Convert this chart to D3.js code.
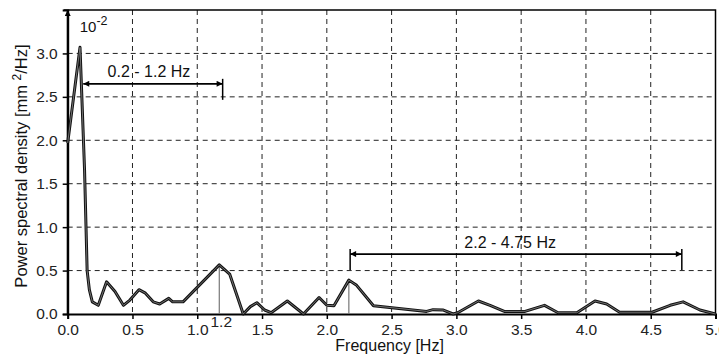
<!DOCTYPE html>
<html>
<head>
<meta charset="utf-8">
<script src="https://cdn.jsdelivr.net/npm/d3@7"></script>
<style>
  body { margin: 0; background: #fff; }
  svg { display: block; font-family: "Liberation Sans", Arial, sans-serif; }
</style>
</head>
<body>
<div id="chart"></div>
<script>
// spectrum (psd in units of 10^-2 mm^2/Hz)
const freq = [0, 0.095, 0.13, 0.15, 0.167, 0.19, 0.236, 0.30, 0.365, 0.43, 0.48, 0.55, 0.60, 0.66, 0.71, 0.78, 0.81, 0.89,
  1.17, 1.25, 1.355, 1.41, 1.46, 1.52, 1.57, 1.695, 1.82, 1.94, 2.0, 2.055, 2.17, 2.23, 2.36, 2.77, 2.82, 2.9, 2.975, 3.01,
  3.17, 3.26, 3.37, 3.53, 3.68, 3.785, 3.93, 4.07, 4.16, 4.26, 4.51, 4.65, 4.75, 4.88, 5.0];
const psd = [1.97, 3.07, 1.66, 0.50, 0.28, 0.14, 0.10, 0.37, 0.26, 0.10, 0.16, 0.28, 0.24, 0.14, 0.115, 0.18, 0.14, 0.14,
  0.565, 0.46, 0.0, 0.085, 0.13, 0.046, 0.015, 0.15, 0.0, 0.19, 0.10, 0.095, 0.39, 0.33, 0.095, 0.03, 0.05, 0.045, 0.0, 0.015,
  0.15, 0.10, 0.03, 0.03, 0.10, 0.015, 0.015, 0.15, 0.115, 0.02, 0.02, 0.10, 0.14, 0.046, 0.0];

const xTicks = [0, 0.5, 1, 1.5, 2, 2.5, 3, 3.5, 4, 4.5, 5];
const yTicks = [0, 0.5, 1, 1.5, 2, 2.5, 3];

// peak markers (gray drop lines) and frequency bands
const peakFreq = [1.17, 2.17];
const peakVal = [0.565, 0.39];
const bandLabels = ['0.2 - 1.2 Hz', '2.2 - 4.75 Hz'];
const bandFrom = [0.12, 2.18];
const bandTo = [1.196, 4.74];
const bandLevel = [2.65, 0.69];

const width = 719, height = 356;
const margin = { top: 10, right: 3.5, bottom: 42, left: 67.7 };
const iw = width - margin.left - margin.right;
const ih = height - margin.top - margin.bottom;
const tickFont = '15.5px';

const svg = d3.select('#chart').append('svg')
  .attr('width', width)
  .attr('height', height);

const defs = svg.append('defs');
defs.append('marker')
  .attr('id', 'head')
  .attr('viewBox', '0 0 10 10')
  .attr('refX', 10).attr('refY', 5)
  .attr('markerWidth', 8).attr('markerHeight', 6)
  .attr('markerUnits', 'userSpaceOnUse')
  .attr('orient', 'auto-start-reverse')
  .append('path').attr('d', 'M0,0L10,5L0,10z').attr('fill', '#000');

const g = svg.append('g').attr('transform', `translate(${margin.left},${margin.top})`);

const x = d3.scaleLinear().domain([0, 5]).range([0, iw]);
const y = d3.scaleLinear().domain([0, 3.5]).range([ih, 0]);

// dashed grid
g.append('g').selectAll('line').data(xTicks.slice(1, -1)).enter().append('line')
  .attr('x1', d => x(d)).attr('x2', d => x(d))
  .attr('y1', 0).attr('y2', ih)
  .attr('stroke', '#222').attr('stroke-width', 1).attr('stroke-dasharray', '5,4');
g.append('g').selectAll('line').data(yTicks.slice(1)).enter().append('line')
  .attr('x1', 0).attr('x2', iw)
  .attr('y1', d => y(d)).attr('y2', d => y(d))
  .attr('stroke', '#222').attr('stroke-width', 1).attr('stroke-dasharray', '5,4');

// frame top + right
g.append('path')
  .attr('d', `M${-4},0H${iw}V${ih}`)
  .attr('fill', 'none').attr('stroke', '#000').attr('stroke-width', 1.5);

// axes
const xAxis = g.append('g')
  .attr('transform', `translate(0,${ih})`)
  .call(d3.axisBottom(x).tickValues(xTicks).tickFormat(d3.format('.1f')).tickSizeOuter(0).tickSize(5).tickPadding(5));
const yAxis = g.append('g')
  .call(d3.axisLeft(y).tickValues(yTicks).tickFormat(d3.format('.1f')).tickSizeOuter(0).tickSize(5).tickPadding(5));
[xAxis, yAxis].forEach(a => {
  a.select('.domain').attr('stroke', '#000').attr('stroke-width', 2);
  a.selectAll('.tick line').attr('stroke', '#000').attr('stroke-width', 1.5);
  a.selectAll('.tick text').attr('fill', '#222').style('font-size', tickFont).style('font-family', '"Liberation Sans", Arial, sans-serif');
});

// y axis arrow at top
g.append('path')
  .attr('d', `M0,${ih}V0`)
  .attr('stroke', '#000').attr('stroke-width', 2)
  .attr('marker-end', 'url(#head)');

// drop lines at peaks
g.append('g').selectAll('line').data(peakFreq).enter().append('line')
  .attr('x1', d => x(d)).attr('x2', d => x(d))
  .attr('y1', (d, i) => y(peakVal[i])).attr('y2', y(0))
  .attr('stroke', '#777').attr('stroke-width', 1.2);

// spectrum curve (thick dark line with lighter core)
const line = d3.line().x((d, i) => x(freq[i])).y(d => y(d));
g.append('path').datum(psd)
  .attr('d', line)
  .attr('fill', 'none').attr('stroke', '#111').attr('stroke-width', 3).attr('stroke-linejoin', 'round');
g.append('path').datum(psd)
  .attr('d', line)
  .attr('fill', 'none').attr('stroke', '#8a8a8a').attr('stroke-width', 0.8).attr('stroke-linejoin', 'round');

// band arrows
bandLabels.forEach((lab, i) => {
  const yy = y(bandLevel[i]);
  g.append('line')
    .attr('x1', x(bandFrom[i])).attr('x2', x(bandTo[i]))
    .attr('y1', yy).attr('y2', yy)
    .attr('stroke', '#000').attr('stroke-width', 1.8)
    .attr('marker-start', 'url(#head)').attr('marker-end', 'url(#head)');
  const ends = i === 0 ? [bandTo[i]] : [bandFrom[i], bandTo[i]];
  ends.forEach(e => {
    g.append('line')
      .attr('x1', x(e)).attr('x2', x(e))
      .attr('y1', yy - 5).attr('y2', yy + 16)
      .attr('stroke', '#000').attr('stroke-width', 1.5);
  });
  g.append('text')
    .attr('x', i === 0 ? x(0.627) : x(3.415)).attr('y', yy - 6.5)
    .attr('text-anchor', 'middle')
    .style('font-size', '16px').attr('fill', '#111')
    .text(lab);
});

// "1.2" label under first peak
g.append('text')
  .attr('x', x(peakFreq[0]) + 2).attr('y', ih + 13)
  .attr('text-anchor', 'middle')
  .style('font-size', tickFont).attr('fill', '#222')
  .text('1.2');

// scale factor 10^-2
const sf = g.append('text').attr('x', 12).attr('y', 22).style('font-size', '15px').attr('fill', '#111');
sf.append('tspan').text('10');
sf.append('tspan').attr('dy', -7).style('font-size', '12.5px').text('-2');

// axis titles
svg.append('text')
  .attr('x', margin.left + iw / 2 - 2).attr('y', 351)
  .attr('text-anchor', 'middle')
  .style('font-size', '16px').attr('fill', '#111')
  .text('Frequency [Hz]');

const yl = svg.append('text')
  .attr('transform', `translate(26.5,166) rotate(-90)`)
  .attr('text-anchor', 'middle')
  .style('font-size', '16.5px').attr('fill', '#111');
yl.append('tspan').text('Power spectral density [mm ');
yl.append('tspan').attr('dy', -6).style('font-size', '12px').text('2');
yl.append('tspan').attr('dy', 6).text('/Hz]');
</script>
</body>
</html>
